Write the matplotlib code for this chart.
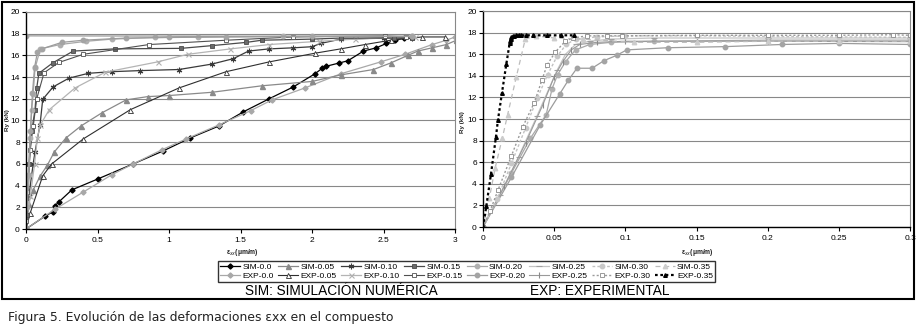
import matplotlib
matplotlib.use("Agg")
import matplotlib.pyplot as plt
from matplotlib.lines import Line2D
from matplotlib.patches import Rectangle

plt.rcParams['font.family'] = ['Liberation Sans', 'DejaVu Sans']

# ---------------- data: left chart (x: 0..3) ----------------
L_SIM_00_x = [0, 0.135, 0.19, 0.20, 0.23, 0.32, 0.50, 0.75, 0.96, 1.15, 1.35, 1.52, 1.70, 1.87, 2.02, 2.07, 2.10, 2.19, 2.25, 2.36, 2.45, 2.52, 2.58, 2.64, 2.70]
L_SIM_00_y = [0, 1.2, 1.6, 2.1, 2.5, 3.6, 4.6, 6.0, 7.2, 8.4, 9.5, 10.8, 12.0, 13.1, 14.3, 14.8, 15.0, 15.3, 15.5, 16.4, 16.7, 17.1, 17.4, 17.6, 17.7]
L_EXP_00_x = [0, 0.2, 0.4, 0.6, 0.75, 0.95, 1.12, 1.35, 1.57, 1.72, 1.95, 2.20, 2.48, 2.65, 2.84, 2.94, 3.0]
L_EXP_00_y = [0, 1.8, 3.4, 5.0, 6.0, 7.3, 8.3, 9.6, 10.9, 11.9, 13.0, 14.3, 15.4, 16.1, 17.0, 17.4, 17.7]
L_SIM_005_x = [0, 0.016, 0.05, 0.10, 0.15, 0.198, 0.28, 0.385, 0.53, 0.70, 0.85, 1.0, 1.3, 1.65, 2.0, 2.2, 2.43, 2.55, 2.67, 2.74, 2.84, 2.94, 3.01]
L_SIM_005_y = [0, 2.4, 3.6, 4.9, 5.9, 7.1, 8.4, 9.5, 10.7, 11.9, 12.2, 12.3, 12.6, 13.2, 13.6, 14.2, 14.7, 15.3, 16.0, 16.4, 16.7, 17.0, 17.4]
L_EXP_005_x = [0, 0.03, 0.117, 0.18, 0.40, 0.73, 1.07, 1.40, 1.70, 2.02, 2.20, 2.37, 2.55, 2.77, 2.93]
L_EXP_005_y = [0, 1.5, 4.9, 6.0, 8.3, 11.0, 13.0, 14.5, 15.4, 16.2, 16.6, 17.0, 17.4, 17.7, 17.7]
L_SIM_010_x = [0, 0.02, 0.05, 0.063, 0.098, 0.117, 0.19, 0.30, 0.436, 0.6, 0.8, 1.07, 1.3, 1.45, 1.556, 1.7, 1.87, 2.0, 2.06, 2.2, 2.5, 2.7]
L_SIM_010_y = [0, 3.0, 6.0, 7.1, 9.6, 11.95, 13.1, 13.9, 14.35, 14.5, 14.6, 14.7, 15.2, 15.7, 16.4, 16.6, 16.7, 16.8, 17.1, 17.5, 17.6, 17.6]
L_EXP_010_x = [0, 0.03, 0.06, 0.079, 0.1, 0.163, 0.343, 0.554, 0.92, 1.13, 1.43, 1.70, 2.05, 2.3, 2.72]
L_EXP_010_y = [0, 3.0, 6.0, 8.36, 9.6, 11.0, 13.0, 14.45, 15.4, 16.1, 16.6, 17.0, 17.3, 17.5, 17.7]
L_SIM_015_x = [0, 0.01, 0.023, 0.04, 0.063, 0.075, 0.09, 0.186, 0.33, 0.62, 1.085, 1.3, 1.54, 1.65, 2.0, 2.2, 2.57, 2.7]
L_SIM_015_y = [0, 1.3, 6.0, 9.0, 11.0, 13.0, 14.35, 15.3, 16.4, 16.6, 16.65, 16.9, 17.2, 17.4, 17.5, 17.6, 17.6, 17.6]
L_EXP_015_x = [0, 0.0, 0.01, 0.028, 0.051, 0.075, 0.126, 0.23, 0.40, 0.86, 1.40, 1.87, 2.51, 2.66]
L_EXP_015_y = [0, 0.74, 3.45, 7.3, 9.5, 12.0, 14.4, 15.35, 16.1, 17.0, 17.4, 17.7, 17.8, 17.7]
L_SIM_020_x = [0, 0.01, 0.02, 0.03, 0.04, 0.05, 0.063, 0.1, 0.238, 0.42, 0.6, 0.9, 1.2, 1.8, 2.7]
L_SIM_020_y = [0, 2.4, 5.0, 8.4, 11.0, 12.4, 14.8, 16.6, 17.0, 17.3, 17.5, 17.65, 17.7, 17.75, 17.75]
L_EXP_020_x = [0, 0.005, 0.015, 0.03, 0.045, 0.06, 0.08, 0.11, 0.25, 0.4, 0.7, 1.0, 1.4, 2.0, 2.7, 0]
L_EXP_020_y = [0, 2.0, 5.0, 9.0, 12.5, 14.9, 16.3, 16.6, 17.2, 17.4, 17.6, 17.65, 17.7, 17.75, 17.75, 17.8]

# ---------------- data: right chart (x: 0..0.3) ----------------
R_EXP_035_x = [0, 0.0023, 0.0056, 0.0091, 0.0105, 0.0133, 0.0164, 0.0187, 0.019, 0.0195, 0.020, 0.021, 0.022, 0.0235, 0.025, 0.027, 0.030, 0.035, 0.045, 0.055, 0.064]
R_EXP_035_y = [0, 1.9, 4.9, 8.35, 9.9, 12.4, 15.1, 17.0, 17.2, 17.4, 17.55, 17.65, 17.7, 17.75, 17.75, 17.75, 17.75, 17.75, 17.75, 17.75, 17.75]
R_SIM_035_x = [0, 0.0045, 0.0086, 0.0135, 0.0173, 0.0234, 0.0297, 0.037, 0.05, 0.07, 0.106, 0.15, 0.2, 0.25, 0.3]
R_SIM_035_y = [0, 2.7, 5.5, 8.2, 10.4, 13.9, 17.4, 17.7, 17.5, 17.4, 17.1, 17.1, 17.2, 17.2, 17.2]
R_EXP_030_x = [0, 0.005, 0.0105, 0.02, 0.028, 0.036, 0.0414, 0.045, 0.0508, 0.0578, 0.063, 0.073, 0.087, 0.098, 0.15, 0.2, 0.25, 0.288, 0.3]
R_EXP_030_y = [0, 1.5, 3.4, 6.6, 9.3, 11.5, 13.6, 15.0, 16.2, 17.2, 17.5, 17.7, 17.7, 17.7, 17.75, 17.75, 17.75, 17.8, 17.75]
R_SIM_030_x = [0, 0.01, 0.02, 0.03, 0.038, 0.0454, 0.052, 0.0585, 0.065, 0.08, 0.1, 0.15, 0.2, 0.25, 0.3]
R_SIM_030_y = [0, 2.6, 5.9, 9.2, 11.9, 14.1, 15.8, 16.9, 17.4, 17.6, 17.7, 17.7, 17.65, 17.6, 17.56]
R_SIM_025_x = [0, 0.012, 0.025, 0.038, 0.047, 0.052, 0.058, 0.065, 0.075, 0.09, 0.12, 0.2, 0.3]
R_SIM_025_y = [0, 3.0, 6.5, 10.3, 13.0, 14.5, 16.0, 16.9, 17.2, 17.4, 17.5, 17.5, 17.5]
R_EXP_025_x = [0, 0.015, 0.03, 0.042, 0.05, 0.056, 0.062, 0.068, 0.08, 0.1, 0.15, 0.2, 0.3]
R_EXP_025_y = [0, 3.8, 7.8, 11.3, 13.9, 15.3, 16.4, 16.9, 17.1, 17.2, 17.2, 17.2, 17.16]
R_SIM_020_x = [0, 0.02, 0.0332, 0.0444, 0.0485, 0.0524, 0.058, 0.065, 0.075, 0.09, 0.12, 0.2, 0.3]
R_SIM_020_y = [0, 5.0, 8.2, 10.4, 12.8, 14.1, 15.3, 16.4, 16.9, 17.1, 17.2, 17.3, 17.3]
R_EXP_020_x = [0, 0.02, 0.04, 0.0538, 0.06, 0.066, 0.0766, 0.085, 0.094, 0.101, 0.13, 0.17, 0.21, 0.25, 0.3]
R_EXP_020_y = [0, 4.6, 9.4, 12.3, 13.6, 14.7, 14.7, 15.4, 15.9, 16.4, 16.6, 16.7, 16.9, 17.0, 16.9]

left_series = [
    ('SIM-0.0', L_SIM_00_x, L_SIM_00_y), ('EXP-0.0', L_EXP_00_x, L_EXP_00_y),
    ('SIM-0.05', L_SIM_005_x, L_SIM_005_y), ('EXP-0.05', L_EXP_005_x, L_EXP_005_y),
    ('SIM-0.10', L_SIM_010_x, L_SIM_010_y), ('EXP-0.10', L_EXP_010_x, L_EXP_010_y),
    ('SIM-0.15', L_SIM_015_x, L_SIM_015_y), ('EXP-0.15', L_EXP_015_x, L_EXP_015_y),
    ('SIM-0.20', L_SIM_020_x, L_SIM_020_y), ('EXP-0.20', L_EXP_020_x, L_EXP_020_y),
]
right_series = [
    ('SIM-0.20', R_SIM_020_x, R_SIM_020_y), ('EXP-0.20', R_EXP_020_x, R_EXP_020_y),
    ('SIM-0.25', R_SIM_025_x, R_SIM_025_y), ('EXP-0.25', R_EXP_025_x, R_EXP_025_y),
    ('SIM-0.30', R_SIM_030_x, R_SIM_030_y), ('EXP-0.30', R_EXP_030_x, R_EXP_030_y),
    ('SIM-0.35', R_SIM_035_x, R_SIM_035_y), ('EXP-0.35', R_EXP_035_x, R_EXP_035_y),
]
legend_order = ['SIM-0.0', 'EXP-0.0', 'SIM-0.05', 'EXP-0.05', 'SIM-0.10', 'EXP-0.10',
                'SIM-0.15', 'EXP-0.15', 'SIM-0.20', 'EXP-0.20', 'SIM-0.25', 'EXP-0.25',
                'SIM-0.30', 'EXP-0.30', 'SIM-0.35', 'EXP-0.35']
left_xticks = [0, 0.5, 1, 1.5, 2, 2.5, 3]
left_xticklabels = ['0', '0.5', '1', '1.5', '2', '2.5', '3']
right_xticks = [0, 0.05, 0.1, 0.15, 0.2, 0.25, 0.3]
right_xticklabels = ['0', '0.05', '0.1', '0.15', '0.2', '0.25', '0.3']
yticks = list(range(0, 21, 2))

# ---------------- styles ----------------
styles = {
    'SIM-0.0': dict(color='#000000', ls='-', lw=0.9, marker='D', ms=2.6, mfc='#000000', mec='#000000'),
    'SIM-0.05': dict(color='#8a8a8a', ls='-', lw=0.9, marker='^', ms=3.6, mfc='#8a8a8a', mec='#8a8a8a'),
    'SIM-0.10': dict(color='#3a3a3a', ls='-', lw=0.9, marker=(6, 2, 0), ms=4, mfc='#3a3a3a', mec='#3a3a3a', mew=0.8),
    'SIM-0.15': dict(color='#4a4a4a', ls='-', lw=0.9, marker='s', ms=3.2, mfc='#6a6a6a', mec='#4a4a4a', mew=0.6),
    'SIM-0.20': dict(color='#a8a8a8', ls='-', lw=0.9, marker='o', ms=3.2, mfc='#b0b0b0', mec='#b0b0b0'),
    'SIM-0.25': dict(color='#c4c4c4', ls='-', lw=0.9, marker='_', ms=4, mec='#a0a0a0', mew=0.8),
    'SIM-0.30': dict(color='#c2c2c2', ls=(0, (2, 1.5)), lw=1.0, marker='o', ms=3.2, mfc='#c8c8c8', mec='#c8c8c8'),
    'SIM-0.35': dict(color='#bcbcbc', ls=(0, (4, 3)), lw=0.9, marker='^', ms=3.2, mfc='#cccccc', mec='#cccccc'),
    'EXP-0.0': dict(color='#a8a8a8', ls='-', lw=0.9, marker='D', ms=2.6, mfc='#a8a8a8', mec='#a8a8a8'),
    'EXP-0.05': dict(color='#2e2e2e', ls='-', lw=0.8, marker='^', ms=3.6, mfc='white', mec='#2e2e2e', mew=0.6),
    'EXP-0.10': dict(color='#b4b4b4', ls='-', lw=0.9, marker='x', ms=3.6, mec='#b0b0b0', mew=0.8),
    'EXP-0.15': dict(color='#505050', ls='-', lw=0.8, marker='s', ms=3.4, mfc='white', mec='#505050', mew=0.6),
    'EXP-0.20': dict(color='#9c9c9c', ls='-', lw=0.9, marker='o', ms=3.2, mfc='#a4a4a4', mec='#a4a4a4'),
    'EXP-0.25': dict(color='#9a9a9a', ls='-', lw=0.8, marker='|', ms=4, mec='#8a8a8a', mew=0.8),
    'EXP-0.30': dict(color='#9a9a9a', ls=(0, (1.5, 1.5)), lw=1.0, marker='s', ms=3.2, mfc='white', mec='#8a8a8a', mew=0.6),
    'EXP-0.35': dict(color='#000000', ls=(0, (1.2, 1.2)), lw=1.6, marker='^', ms=2.6, mfc='#000000', mec='#000000'),
}

W, H = 921, 326
fig = plt.figure(figsize=(W / 100, H / 100), dpi=100)


def px_rect(x0, x1, ytop, ybot):
    return [x0 / W, 1 - ybot / H, (x1 - x0) / W, (ybot - ytop) / H]


axL = fig.add_axes(px_rect(26, 455, 12, 229))
axR = fig.add_axes(px_rect(483, 910, 11, 227))

for ax, series, xticks, xlabels, xmax in [
        (axL, left_series, left_xticks, left_xticklabels, 3),
        (axR, right_series, right_xticks, right_xticklabels, 0.3)]:
    for label, xs, ys in series:
        ax.plot(xs, ys, label=label, clip_on=True, **styles[label])
    ax.set_xlim(0, xmax)
    ax.set_ylim(0, 20)
    ax.set_xticks(xticks)
    ax.set_xticklabels(xlabels)
    ax.set_yticks(yticks)
    ax.tick_params(axis='both', labelsize=6, length=3, width=0.8, pad=1.5, direction='out')
    ax.tick_params(axis='x', pad=3)
    ax.grid(axis='y', color='#888888', lw=0.8)
    ax.set_axisbelow(True)
    for s in ('top', 'right'):
        ax.spines[s].set_color('#888888')
        ax.spines[s].set_linewidth(0.8)
    for s in ('left', 'bottom'):
        ax.spines[s].set_color('black')
        ax.spines[s].set_linewidth(1.0)

# axis labels
fig.text(7 / W, 1 - 120 / H, 'Ry (kN)', rotation=90, fontsize=4.5, fontweight='bold', ha='center', va='center', color='#222222')
fig.text(462 / W, 1 - 122 / H, 'Ry (kN)', rotation=90, fontsize=4.5, fontweight='bold', ha='center', va='center', color='#222222')
fig.text(242 / W, 1 - 253 / H, 'ε$_{xx}$(μm/m)', fontsize=4.8, fontweight='bold', ha='center', va='center', color='#222222')
fig.text(697 / W, 1 - 252 / H, 'ε$_{xx}$(μm/m)', fontsize=4.8, fontweight='bold', ha='center', va='center', color='#222222')

# legend
handles = [Line2D([], [], **styles[k]) for k in legend_order]
leg = fig.legend(handles, legend_order, ncol=8, loc='upper left',
                 bbox_to_anchor=(218 / W, 1 - 261 / H), fontsize=6,
                 frameon=True, fancybox=False, edgecolor='black',
                 borderpad=0.25, handlelength=2.4, handletextpad=0.3,
                 columnspacing=0.5, labelspacing=0.1, borderaxespad=0)
leg.get_frame().set_linewidth(1.0)

fig.text(341 / W, 1 - 291 / H, 'SIM: SIMULACIÓN NUMÉRICA', fontsize=9.8, ha='center', va='center')
fig.text(600 / W, 1 - 291 / H, 'EXP: EXPERIMENTAL', fontsize=9.8, ha='center', va='center')

# outer frame
fig.add_artist(Rectangle((2 / W, 1 - 299 / H), 912 / W, 297 / H, transform=fig.transFigure,
                         fill=False, edgecolor='black', lw=1.5))

fig.text(8 / W, 1 - 317 / H, 'Figura 5. Evolución de las deformaciones εxx en el compuesto',
         fontsize=8.9, ha='left', va='center', family='DejaVu Sans', color='#222222')

fig.savefig('out.png', dpi=100)
